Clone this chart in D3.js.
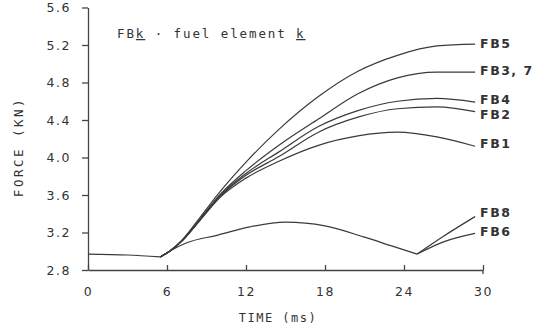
<!DOCTYPE html>
<html>
<head>
<meta charset="utf-8">
<script src="https://cdn.jsdelivr.net/npm/d3@7"></script>
<style>
  body { margin: 0; background: #fff; }
  svg { display: block; }
  text { font-family: "DejaVu Sans Mono", "Liberation Mono", monospace; fill: #333; }
</style>
</head>
<body>
<div id="chart"></div>
<script>
// tick values
const xTicks = [0, 6, 12, 18, 24, 30];
const yTicks = [2.8, 3.2, 3.6, 4.0, 4.4, 4.8, 5.2, 5.6];

// shared start (t = 0 .. 5.5 ms)
const timeStart = [0, 3, 5.5];
const forceStart = [2.97, 2.96, 2.94];

// upper family, t = 5.5 .. 29.4 ms
const timeUpper = [5.5, 6.2, 7.2, 8.5, 10, 12, 14.5, 17.5, 20.5, 23.5, 26.5, 29.4];
const fb5  = [2.94, 3.00, 3.13, 3.36, 3.63, 3.95, 4.30, 4.65, 4.92, 5.09, 5.19, 5.21];
const fb37 = [2.94, 3.00, 3.12, 3.34, 3.60, 3.86, 4.13, 4.41, 4.68, 4.85, 4.91, 4.91];
const fb4  = [2.94, 3.00, 3.12, 3.34, 3.59, 3.83, 4.06, 4.33, 4.50, 4.60, 4.63, 4.59];
const fb2  = [2.94, 3.00, 3.12, 3.33, 3.58, 3.81, 4.01, 4.27, 4.43, 4.52, 4.54, 4.49];
const fb1  = [2.94, 3.00, 3.12, 3.33, 3.57, 3.78, 3.96, 4.13, 4.23, 4.27, 4.22, 4.12];

// lower branch, t = 5.5 .. 25 ms, then FB8 / FB6 split
const timeLower = [5.5, 6.2, 7.5, 9.8, 12.3, 15, 18, 21, 23, 25];
const fbLower = [2.94, 3.00, 3.09, 3.17, 3.26, 3.31, 3.27, 3.15, 3.06, 2.97];
const timeSplit = [25, 27, 29.4];
const fb8 = [2.97, 3.16, 3.37];
const fb6 = [2.97, 3.10, 3.19];

const curveLabels = [
  { name: 'FB5', t: timeUpper, v: fb5, dy: 0 },
  { name: 'FB3, 7', t: timeUpper, v: fb37, dy: -2 },
  { name: 'FB4', t: timeUpper, v: fb4, dy: -3 },
  { name: 'FB2', t: timeUpper, v: fb2, dy: 3 },
  { name: 'FB1', t: timeUpper, v: fb1, dy: -3 },
  { name: 'FB8', t: timeSplit, v: fb8, dy: -4 },
  { name: 'FB6', t: timeSplit, v: fb6, dy: -2 }
];

const width = 540, height = 327;

const svg = d3.select('#chart').append('svg')
  .attr('width', width)
  .attr('height', height);

svg.append('rect').attr('width', width).attr('height', height).attr('fill', '#fff');

const x = d3.scaleLinear().domain([0, 30]).range([88, 483]);
const y = d3.scaleLinear().domain([2.8, 5.6]).range([270, 7.5]);

// axes
const yAxis = svg.append('g')
  .attr('transform', `translate(${x(0)},0)`)
  .call(d3.axisLeft(y).tickValues(yTicks).tickSize(6).tickSizeOuter(0).tickPadding(11)
    .tickFormat(d3.format('.1f')));

const xAxis = svg.append('g')
  .attr('transform', `translate(0,${y(2.8)})`)
  .call(d3.axisBottom(x).tickValues(xTicks).tickSize(-5).tickSizeOuter(0).tickPadding(17)
    .tickFormat(d3.format('d')));

[yAxis, xAxis].forEach(g => {
  g.select('.domain').attr('stroke', '#444').attr('stroke-width', 1.3);
  g.selectAll('.tick line').attr('stroke', '#444').attr('stroke-width', 1.3);
  g.selectAll('.tick text')
    .style('font-family', '"DejaVu Sans", sans-serif')
    .style('font-size', '12.5px')
    .style('letter-spacing', '1.5px')
    .attr('fill', '#444');
});

// small downward hook at the end of the time axis
xAxis.append('line')
  .attr('x1', x(30)).attr('x2', x(30))
  .attr('y1', 0).attr('y2', 4)
  .attr('stroke', '#444').attr('stroke-width', 1.3);

// curves
const line = d3.line()
  .x(d => x(d[0]))
  .y(d => y(d[1]))
  .curve(d3.curveMonotoneX);

const pairs = (t, v) => t.map((d, i) => [d, v[i]]);

const series = [
  pairs(timeStart, forceStart),
  pairs(timeUpper, fb5),
  pairs(timeUpper, fb37),
  pairs(timeUpper, fb4),
  pairs(timeUpper, fb2),
  pairs(timeUpper, fb1),
  pairs(timeLower, fbLower),
  pairs(timeSplit, fb8),
  pairs(timeSplit, fb6)
];

svg.append('g')
  .selectAll('path')
  .data(series)
  .enter().append('path')
    .attr('d', line)
    .attr('fill', 'none')
    .attr('stroke', '#3a3a3a')
    .attr('stroke-width', 1.2);

// curve labels at line ends
svg.append('g')
  .selectAll('text')
  .data(curveLabels)
  .enter().append('text')
    .attr('x', d => x(d.t[d.t.length - 1]) + 5)
    .attr('y', d => y(d.v[d.v.length - 1]) + d.dy)
    .attr('dy', '0.35em')
    .style('font-family', '"DejaVu Sans", sans-serif')
    .style('font-size', '12.5px')
    .style('font-weight', 'bold')
    .style('letter-spacing', '1.5px')
    .attr('fill', '#333')
    .text(d => d.name);

// legend note
const note = svg.append('text')
  .attr('x', 117)
  .attr('y', 38)
  .style('font-size', '12.5px')
  .style('letter-spacing', '1.9px');
note.append('tspan').text('FB');
note.append('tspan').attr('text-decoration', 'underline').text('k');
note.append('tspan').text('  · fuel element ');
note.append('tspan').attr('text-decoration', 'underline').text('k');

// axis titles
svg.append('text')
  .attr('x', 278)
  .attr('y', 322)
  .attr('text-anchor', 'middle')
  .style('font-size', '12px')
  .style('letter-spacing', '1.5px')
  .text('TIME (ms)');

svg.append('text')
  .attr('transform', 'translate(23,147) rotate(-90)')
  .attr('text-anchor', 'middle')
  .style('font-size', '12.5px')
  .style('letter-spacing', '2.5px')
  .text('FORCE (KN)');
</script>
</body>
</html>
